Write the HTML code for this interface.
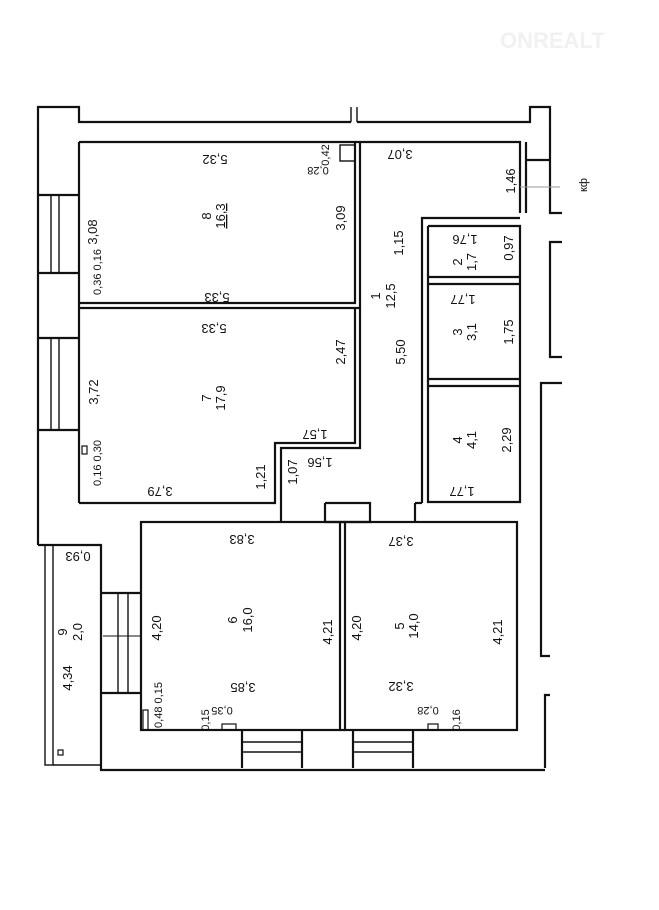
<!DOCTYPE html>
<html><head><meta charset="utf-8"><style>
html,body{margin:0;padding:0;background:#fff;width:659px;height:910px;overflow:hidden}
svg text{font-family:"Liberation Sans",sans-serif;font-size:13px;fill:#111}
</style></head><body>
<svg width="659" height="910" viewBox="0 0 659 910" xmlns="http://www.w3.org/2000/svg">
<g fill="none" stroke="#111" stroke-width="2.2">
<!-- outer top -->
<polyline points="38,545 38,107 79,107 79,122 351,122"/>
<polyline points="357,122 530,122 530,107 550,107 550,213 562,213"/>
<line x1="351" y1="107" x2="351" y2="122" stroke-width="1.4"/>
<line x1="357" y1="107" x2="357" y2="122" stroke-width="1.4"/>
<line x1="526" y1="160" x2="550" y2="160"/>
<line x1="526" y1="142" x2="526" y2="213"/>
<!-- right outer segments -->
<polyline points="562,242 550,242 550,357 562,357"/>
<polyline points="562,383 541,383 541,656 550,656"/>
<polyline points="550,695 545,695 545,768"/>
<!-- left windows -->
<polyline points="38,195 79,195"/><polyline points="38,273 79,273"/>
<line x1="51" y1="195" x2="51" y2="273" stroke-width="1.4"/><line x1="59" y1="195" x2="59" y2="273" stroke-width="1.4"/>
<polyline points="38,338 79,338"/><polyline points="38,430 79,430"/>
<line x1="51" y1="338" x2="51" y2="430" stroke-width="1.4"/><line x1="59" y1="338" x2="59" y2="430" stroke-width="1.4"/>
<!-- room 8 -->
<polyline points="79,142 520,142 520,213"/>
<line x1="79" y1="142" x2="79" y2="503"/>
<polyline points="355,142 355,303 79,303"/>
<polyline points="360,142 360,308 79,308" />
<!-- room 7 -->
<polyline points="355,308 355,443 275,443 275,503 79,503"/>
<polyline points="360,308 360,448 281,448 281,503"/>
<!-- closets -->
<polyline points="520,218 422,218 422,503"/>
<polyline points="428,226 520,226 520,502 428,502 428,226"/>
<line x1="428" y1="277" x2="520" y2="277"/><line x1="428" y1="284" x2="520" y2="284"/>
<line x1="428" y1="379" x2="520" y2="379"/><line x1="428" y1="386" x2="520" y2="386"/>
<line x1="415" y1="503" x2="422" y2="503"/>
<!-- doorway blocks -->
<polyline points="281,503 281,522"/><polyline points="325,503 325,522 370,522 370,503 325,503"/>
<polyline points="415,503 415,522"/>
<!-- room 6 and 5 -->
<rect x="141" y="522" width="199" height="208"/>
<rect x="345" y="522" width="172" height="208"/>
<line x1="340" y1="522" x2="345" y2="522"/><line x1="340" y1="730" x2="345" y2="730"/>
<!-- left wall lower -->
<polyline points="38,545 101,545 101,770 545,770"/>
<rect x="45" y="545" width="8" height="220" stroke-width="1.4"/>
<polyline points="53,765 101,765" stroke-width="1.4"/>
<rect x="58" y="750" width="5" height="5" stroke-width="1.2"/>
<!-- balcony door -->
<polyline points="101,593 141,593"/><polyline points="101,693 141,693"/>
<line x1="118" y1="593" x2="118" y2="693" stroke-width="1.4"/><line x1="128" y1="593" x2="128" y2="693" stroke-width="1.4"/>
<line x1="103" y1="636" x2="141" y2="636" stroke-width="1"/>
<!-- bottom windows -->
<polyline points="242,730 242,768"/><polyline points="302,730 302,768"/>
<polyline points="353,730 353,768"/><polyline points="413,730 413,768"/>
<line x1="242" y1="742" x2="302" y2="742" stroke-width="1.4"/><line x1="242" y1="752" x2="302" y2="752" stroke-width="1.4"/>
<line x1="353" y1="742" x2="413" y2="742" stroke-width="1.4"/><line x1="353" y1="752" x2="413" y2="752" stroke-width="1.4"/>
<!-- small niches -->
<rect x="340" y="145" width="15" height="16" stroke-width="1.4"/>
<rect x="82" y="446" width="5" height="8" stroke-width="1.2"/>
<rect x="143" y="710" width="5" height="20" stroke-width="1.2"/>
<rect x="222" y="724" width="14" height="6" stroke-width="1.2"/>
<rect x="428" y="724" width="10" height="6" stroke-width="1.2"/>
</g>
<g stroke="#999" stroke-width="1"><line x1="520" y1="187" x2="560" y2="187"/></g>
<!-- horizontal dims (upside down) -->
<g>
<text transform="translate(215,160) rotate(180)" text-anchor="middle" dy="5">5,32</text>
<text transform="translate(217,298) rotate(180)" text-anchor="middle" dy="5">5,33</text>
<text transform="translate(214,329) rotate(180)" text-anchor="middle" dy="5">5,33</text>
<text transform="translate(160,492) rotate(180)" text-anchor="middle" dy="5">3,79</text>
<text transform="translate(315,435) rotate(180)" text-anchor="middle" dy="5">1,57</text>
<text transform="translate(320,463) rotate(180)" text-anchor="middle" dy="5">1,56</text>
<text transform="translate(400,155) rotate(180)" text-anchor="middle" dy="5">3,07</text>
<text transform="translate(465,240) rotate(180)" text-anchor="middle" dy="5">1,76</text>
<text transform="translate(463,300) rotate(180)" text-anchor="middle" dy="5">1,77</text>
<text transform="translate(462,492) rotate(180)" text-anchor="middle" dy="5">1,77</text>
<text transform="translate(242,540) rotate(180)" text-anchor="middle" dy="5">3,83</text>
<text transform="translate(401,542) rotate(180)" text-anchor="middle" dy="5">3,37</text>
<text transform="translate(243,688) rotate(180)" text-anchor="middle" dy="5">3,85</text>
<text transform="translate(401,687) rotate(180)" text-anchor="middle" dy="5">3,32</text>
<text transform="translate(78,557) rotate(180)" text-anchor="middle" dy="5">0,93</text>
<text transform="translate(318,172) rotate(180)" text-anchor="middle" dy="5" style="font-size:11px">0,28</text>
<text transform="translate(222,712) rotate(180)" text-anchor="middle" dy="5" style="font-size:11px">0,35</text>
<text transform="translate(428,712) rotate(180)" text-anchor="middle" dy="5" style="font-size:11px">0,28</text>
</g>
<!-- vertical dims -->
<g>
<text transform="translate(92,232) rotate(-90)" text-anchor="middle" dy="5">3,08</text>
<text transform="translate(340,218) rotate(-90)" text-anchor="middle" dy="5">3,09</text>
<text transform="translate(340,352) rotate(-90)" text-anchor="middle" dy="5">2,47</text>
<text transform="translate(93,392) rotate(-90)" text-anchor="middle" dy="5">3,72</text>
<text transform="translate(260,477) rotate(-90)" text-anchor="middle" dy="5">1,21</text>
<text transform="translate(292,472) rotate(-90)" text-anchor="middle" dy="5">1,07</text>
<text transform="translate(400,352) rotate(-90)" text-anchor="middle" dy="5">5,50</text>
<text transform="translate(398,243) rotate(-90)" text-anchor="middle" dy="5">1,15</text>
<text transform="translate(510,181) rotate(-90)" text-anchor="middle" dy="5">1,46</text>
<text transform="translate(508,248) rotate(-90)" text-anchor="middle" dy="5">0,97</text>
<text transform="translate(508,332) rotate(-90)" text-anchor="middle" dy="5">1,75</text>
<text transform="translate(506,440) rotate(-90)" text-anchor="middle" dy="5">2,29</text>
<text transform="translate(156,628) rotate(-90)" text-anchor="middle" dy="5">4,20</text>
<text transform="translate(327,632) rotate(-90)" text-anchor="middle" dy="5">4,21</text>
<text transform="translate(356,628) rotate(-90)" text-anchor="middle" dy="5">4,20</text>
<text transform="translate(497,632) rotate(-90)" text-anchor="middle" dy="5">4,21</text>
<text transform="translate(67,678) rotate(-90)" text-anchor="middle" dy="5">4,34</text>
<text transform="translate(324,155) rotate(-90)" text-anchor="middle" dy="5" style="font-size:11px">0,42</text>
<text transform="translate(96,272) rotate(-90)" text-anchor="middle" dy="5" style="font-size:11px">0,36 0,16</text>
<text transform="translate(96,463) rotate(-90)" text-anchor="middle" dy="5" style="font-size:11px">0,16 0,30</text>
<text transform="translate(157,705) rotate(-90)" text-anchor="middle" dy="5" style="font-size:11px">0,48 0,15</text>
<text transform="translate(204,720) rotate(-90)" text-anchor="middle" dy="5" style="font-size:11px">0,15</text>
<text transform="translate(455,720) rotate(-90)" text-anchor="middle" dy="5" style="font-size:11px">0,16</text>
<text transform="translate(582,185) rotate(-90)" text-anchor="middle" dy="5" style="font-size:11px">кф</text>
</g>
<!-- room labels -->
<g>
<text transform="translate(207,216) rotate(-90)" text-anchor="middle" dy="4">8</text>
<text transform="translate(221,216) rotate(-90)" text-anchor="middle" dy="4" text-decoration="underline">16,3</text>
<text transform="translate(207,398) rotate(-90)" text-anchor="middle" dy="4">7</text>
<text transform="translate(221,398) rotate(-90)" text-anchor="middle" dy="4">17,9</text>
<text transform="translate(376,296) rotate(-90)" text-anchor="middle" dy="4">1</text>
<text transform="translate(391,296) rotate(-90)" text-anchor="middle" dy="4">12,5</text>
<text transform="translate(458,262) rotate(-90)" text-anchor="middle" dy="4">2</text>
<text transform="translate(472,262) rotate(-90)" text-anchor="middle" dy="4">1,7</text>
<text transform="translate(458,332) rotate(-90)" text-anchor="middle" dy="4">3</text>
<text transform="translate(472,332) rotate(-90)" text-anchor="middle" dy="4">3,1</text>
<text transform="translate(458,440) rotate(-90)" text-anchor="middle" dy="4">4</text>
<text transform="translate(472,440) rotate(-90)" text-anchor="middle" dy="4">4,1</text>
<text transform="translate(233,620) rotate(-90)" text-anchor="middle" dy="4">6</text>
<text transform="translate(248,620) rotate(-90)" text-anchor="middle" dy="4">16,0</text>
<text transform="translate(400,626) rotate(-90)" text-anchor="middle" dy="4">5</text>
<text transform="translate(414,626) rotate(-90)" text-anchor="middle" dy="4">14,0</text>
<text transform="translate(63,632) rotate(-90)" text-anchor="middle" dy="4">9</text>
<text transform="translate(78,632) rotate(-90)" text-anchor="middle" dy="4">2,0</text>
</g>
<text x="500" y="48" style="font-size:22px;font-weight:bold;fill:#f1f1f1">ONREALT</text>
</svg>
</body></html>
